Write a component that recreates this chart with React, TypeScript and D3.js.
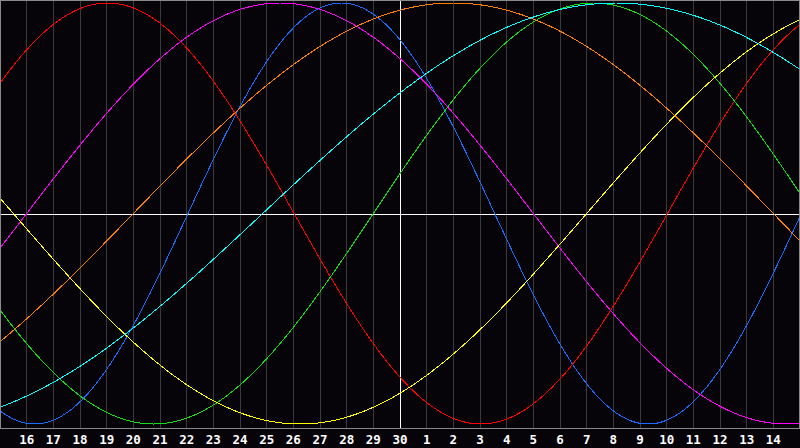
import React from 'react';
import * as d3 from 'd3';

const dayLabels = ['16','17','18','19','20','21','22','23','24','25','26','27','28','29','30','1','2','3','4','5','6','7','8','9','10','11','12','13','14'];
const cycleNames = ['Physical','Emotional','Intellectual','Intuitive','Aesthetic','Awareness','Spiritual'];
const cyclePeriods = [23, 28, 33, 38, 43, 48, 53];
// column position (in day units from left edge) where each cycle peaks
const cyclePeaks = [12.8, 4.03, 22.25, 10.5, 32.75, 17.0, 23.1];
const cycleColors = ['#1a6cff', '#ff0000', '#11dd11', '#ff00ff', '#ffff00', '#ff8000', '#00ffff'];
const todayIndex = 15;

const W = 800, H = 448;
const plotBottom = 428;

export default function App() {
  const x = d3.scaleLinear().domain([0, 30]).range([0, 800]);
  const y = d3.scaleLinear().domain([-1, 1]).range([424, 3]);
  const samples = d3.range(0, 30.0001, 0.02);
  const line = d3.line<number>();

  const paths = cyclePeriods.map((p, i) => {
    const pts = samples.map(t => [x(t), y(Math.cos((2 * Math.PI * (t - cyclePeaks[i])) / p))] as [number, number]);
    return line(pts) as string;
  });

  const gridIdx = d3.range(1, 30);

  return (
    <svg width={W} height={H} style={{ position: 'fixed', left: 0, top: 0, display: 'block' }}>
      <rect x={0} y={0} width={W} height={H} fill="#060409" />
      {gridIdx.filter(k => k !== todayIndex).map(k => (
        <line key={k} x1={Math.floor(x(k)) + 0.5} x2={Math.floor(x(k)) + 0.5} y1={0} y2={plotBottom}
          stroke="#3a3a3a" strokeWidth={1} shapeRendering="crispEdges" />
      ))}
      <line x1={0} x2={W} y1={Math.round(y(0)) + 0.5} y2={Math.round(y(0)) + 0.5} stroke="#ffffff" strokeWidth={1} shapeRendering="crispEdges" />
      <line x1={x(todayIndex) + 0.5} x2={x(todayIndex) + 0.5} y1={0} y2={plotBottom} stroke="#ffffff" strokeWidth={1} shapeRendering="crispEdges" />
      {paths.map((d, i) => (
        <path key={cycleNames[i]} d={d} fill="none" stroke={cycleColors[i]} strokeWidth={1} shapeRendering="crispEdges" />
      ))}
      <rect x={0.5} y={0.5} width={W - 1} height={plotBottom} fill="none" stroke="#8a8a8a" strokeWidth={1} shapeRendering="crispEdges" />
      {dayLabels.map((lab, i) => (
        <text key={i} x={x(i + 1)} y={443.5} textAnchor="middle" fill="#ffffff"
          style={{ fontFamily: '"DejaVu Sans Mono", monospace', fontWeight: 'bold', fontSize: '12.5px' }}>{lab}</text>
      ))}
    </svg>
  );
}
